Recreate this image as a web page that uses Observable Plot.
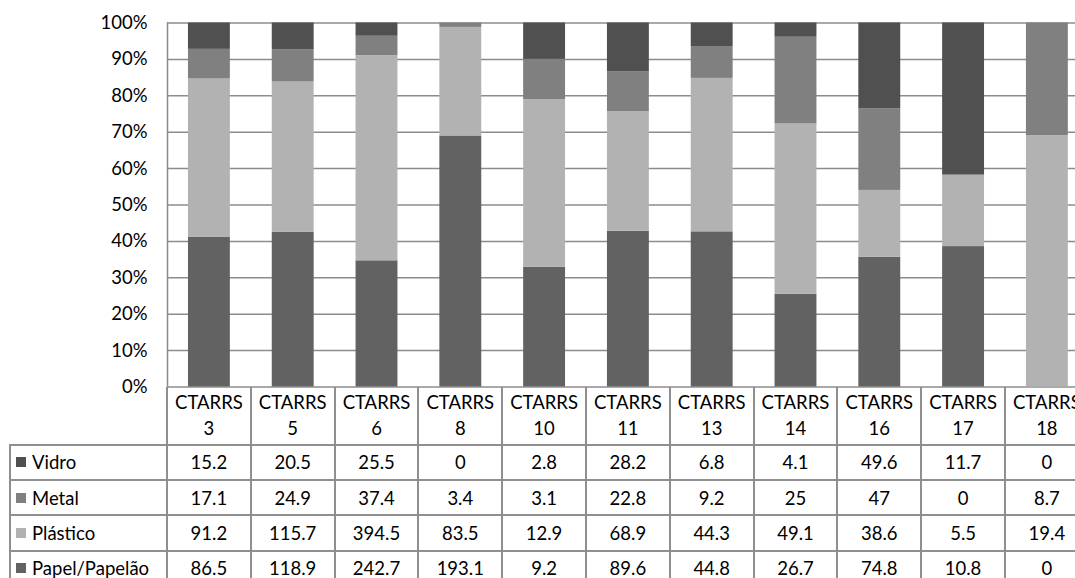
<!DOCTYPE html>
<html lang="pt">
<head>
<meta charset="utf-8">
<script src="https://cdn.jsdelivr.net/npm/d3@7"></script>
<script src="https://cdn.jsdelivr.net/npm/@observablehq/plot@0.6"></script>
<style>
  html, body { margin: 0; padding: 0; background: #fff; }
  body { width: 1075px; height: 578px; overflow: hidden; position: relative; font-family: Lato, sans-serif; }
  #chart { position: absolute; left: 0; top: 0; }
  #chart svg { max-width: none; }
  .datatable {
    position: absolute;
    display: grid;
    font-family: Lato, sans-serif;
    font-size: 18.5px;
    color: #000;
  }
  .datatable .cell {
    box-sizing: border-box;
    display: flex;
    align-items: center;
    justify-content: center;
    text-align: center;
    overflow: hidden;
    border-left: 2px solid #8f8f8f;
    border-top: 2px solid #8f8f8f;
    white-space: nowrap;
  }
  .datatable .head { border-top: none; line-height: 26px; white-space: normal; flex-direction: column; }
  .datatable .corner { border: none; }
  .datatable .name { justify-content: flex-start; padding-left: 5px; }
  .swatch { display: inline-block; width: 10px; height: 10px; margin-right: 6px; flex: none; }
</style>
</head>
<body>
<div id="chart"></div>
<script>
// Recycling centres (CTARRS) and the quantity of each material collected.
const categories = ["CTARRS 3", "CTARRS 5", "CTARRS 6", "CTARRS 8", "CTARRS 10", "CTARRS 11",
                    "CTARRS 13", "CTARRS 14", "CTARRS 16", "CTARRS 17", "CTARRS 18"];
const vidro    = [15.2, 20.5, 25.5, 0, 2.8, 28.2, 6.8, 4.1, 49.6, 11.7, 0];
const metal    = [17.1, 24.9, 37.4, 3.4, 3.1, 22.8, 9.2, 25, 47, 0, 8.7];
const plastico = [91.2, 115.7, 394.5, 83.5, 12.9, 68.9, 44.3, 49.1, 38.6, 5.5, 19.4];
const papel    = [86.5, 118.9, 242.7, 193.1, 9.2, 89.6, 44.8, 26.7, 74.8, 10.8, 0];

// Rows of the data table, top to bottom.
const tableSeries = ["Vidro", "Metal", "Plástico", "Papel/Papelão"];
// Stacking order, bottom to top.
const stackOrder = ["Papel/Papelão", "Plástico", "Metal", "Vidro"];
const yTicks = [0, 0.1, 0.2, 0.3, 0.4, 0.5, 0.6, 0.7, 0.8, 0.9, 1];

const seriesValues = {
  "Vidro": vidro,
  "Metal": metal,
  "Plástico": plastico,
  "Papel/Papelão": papel
};
const palette = {
  "Vidro": "#505050",
  "Metal": "#808080",
  "Plástico": "#b2b2b2",
  "Papel/Papelão": "#626262"
};

const rows = [];
for (const s of stackOrder) {
  categories.forEach((c, i) => rows.push({category: c, series: s, value: seriesValues[s][i]}));
}

const gridColor = "#8c8c8c";
const step = 83.8;

const chart = Plot.plot({
  width: 167 + categories.length * step,
  height: 387,
  marginLeft: 167,
  marginRight: 0,
  marginTop: 22.5,
  marginBottom: 0.5,
  style: {fontFamily: "Lato, sans-serif", fontSize: "18.5px", color: "#000", background: "#fff", overflow: "visible", maxWidth: "none"},
  x: {domain: categories, paddingInner: 0.5, paddingOuter: 0.25, round: false, axis: null},
  y: {domain: [0, 1], axis: null},
  color: {domain: stackOrder, range: stackOrder.map(s => palette[s])},
  marks: [
    Plot.ruleY(yTicks, {stroke: gridColor, strokeWidth: 1.5}),
    Plot.barY(rows, Plot.stackY({
      x: "category",
      y: "value",
      fill: "series",
      order: stackOrder,
      offset: "normalize"
    })),
    Plot.axisY({ticks: yTicks, tickFormat: d3.format(".0%"), tickSize: 0, tickPadding: 20, fill: "#000", label: null}),
    Plot.frame({anchor: "left", stroke: gridColor, strokeWidth: 1.5})
  ]
});
document.getElementById("chart").append(chart);

// Data table under the columns: one grid column per band of the x scale.
const x = chart.scale("x");
const colW = x.step !== undefined ? x.step : (x.range[1] - x.range[0]) / categories.length;
const left0 = x.range[0];
const nameColLeft = 10;
const lineW = 2;

const grid = d3.select("body").append("div").attr("class", "datatable")
  .style("left", (nameColLeft - lineW / 2) + "px")
  .style("top", "386.5px")
  .style("grid-template-columns", `${left0 - nameColLeft}px repeat(${categories.length}, ${colW}px)`)
  .style("grid-template-rows", `57px repeat(${tableSeries.length}, 35.4px)`);

grid.append("div").attr("class", "cell corner");
categories.forEach(c => {
  const [word, num] = c.split(" ");
  const cell = grid.append("div").attr("class", "cell head");
  cell.append("span").text(word);
  cell.append("span").text(num);
});

tableSeries.forEach(s => {
  const nameCell = grid.append("div").attr("class", "cell name");
  nameCell.append("span").attr("class", "swatch").style("background", chart.scale("color").apply(s));
  nameCell.append("span").text(s);
  seriesValues[s].forEach(v => grid.append("div").attr("class", "cell").text(String(v)));
});
</script>
</body>
</html>
